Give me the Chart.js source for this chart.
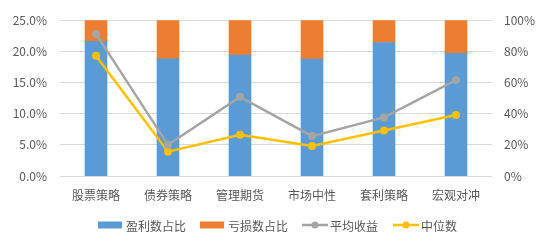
<!DOCTYPE html>
<html>
<head>
<meta charset="utf-8">
<script src="https://cdn.jsdelivr.net/npm/chart.js@4"></script>
<style>
  html, body { margin: 0; padding: 0; background: #fff; }
  #wrap { width: 550px; height: 245px; position: relative; }
</style>
</head>
<body>
<div id="wrap"><canvas id="chart"></canvas></div>
<script>
const categories = ["股票策略", "债券策略", "管理期货", "市场中性", "套利策略", "宏观对冲"];
const profitShare = [86.5, 75.2, 77.6, 75.0, 85.7, 78.8];
const lossShare = [13.5, 24.8, 22.4, 25.0, 14.3, 21.2];
const avgReturn = [22.8, 5.0, 12.7, 6.4, 9.4, 15.4];
const medianReturn = [19.3, 3.9, 6.6, 4.8, 7.3, 9.8];
const legendNames = ["盈利数占比", "亏损数占比", "平均收益", "中位数"];

const FONT = "'Noto Sans CJK SC', 'Noto Sans', sans-serif";
const TEXT = "#595959";

// 图例手动画在底部
const legendPlugin = {
    id: "bottomLegend",
    afterDraw(chart) {
        const c = chart.ctx;
        const y = 225;
        const items = [
            { x: 98, type: "box", color: "#5b9bd5", name: legendNames[0] },
            { x: 200, type: "box", color: "#ed7d31", name: legendNames[1] },
            { x: 302, type: "line", color: "#a5a5a5", name: legendNames[2] },
            { x: 393, type: "line", color: "#ffc000", name: legendNames[3] },
        ];
        c.save();
        c.font = "12px " + FONT;
        c.textBaseline = "middle";
        c.fillStyle = TEXT;
        items.forEach((it) => {
            if (it.type === "box") {
                c.fillStyle = it.color;
                c.fillRect(it.x, y - 3.5, 24, 7);
            } else {
                c.strokeStyle = it.color;
                c.lineWidth = 2.5;
                c.beginPath();
                c.moveTo(it.x, y);
                c.lineTo(it.x + 26, y);
                c.stroke();
                c.fillStyle = it.color;
                c.beginPath();
                c.arc(it.x + 13, y, 3.5, 0, Math.PI * 2);
                c.fill();
            }
            c.fillStyle = TEXT;
            c.fillText(it.name, it.x + 28, y + 1);
        });
        c.restore();
    },
};

new Chart(document.getElementById("chart"), {
    type: "bar",
    data: {
        labels: categories,
        datasets: [
            {
                type: "line",
                label: legendNames[2],
                data: avgReturn,
                yAxisID: "y",
                borderColor: "#a5a5a5",
                backgroundColor: "#a5a5a5",
                borderWidth: 2.5,
                pointRadius: 4,
                pointBorderWidth: 0,
                tension: 0,
                order: 0,
            },
            {
                type: "line",
                label: legendNames[3],
                data: medianReturn,
                yAxisID: "y",
                borderColor: "#ffc000",
                backgroundColor: "#ffc000",
                borderWidth: 2.5,
                pointRadius: 4,
                pointBorderWidth: 0,
                tension: 0,
                order: 0,
            },
            {
                label: legendNames[0],
                data: profitShare,
                yAxisID: "yR",
                backgroundColor: "#5b9bd5",
                barThickness: 22,
                order: 1,
            },
            {
                label: legendNames[1],
                data: lossShare,
                yAxisID: "yR",
                backgroundColor: "#ed7d31",
                barThickness: 22,
                order: 1,
            },
        ],
    },
    options: {
        responsive: true,
        maintainAspectRatio: false,
        animation: false,
        layout: { padding: { top: 20, left: 0, right: 0, bottom: 0 } },
        plugins: {
            legend: { display: false },
            tooltip: { enabled: false },
        },
        scales: {
            x: {
                stacked: true,
                grid: { display: false, drawTicks: false },
                border: { display: false },
                ticks: { color: TEXT, font: { size: 12, family: FONT }, padding: 12 },
                afterFit: (s) => { s.height = 69; },
            },
            y: {
                position: "left",
                min: 0,
                max: 25,
                ticks: {
                    stepSize: 5,
                    color: TEXT,
                    font: { size: 12, family: FONT },
                    padding: 13,
                    callback: (v) => v.toFixed(1) + "%",
                },
                grid: { color: "#d9d9d9", drawTicks: false },
                border: { display: false },
                afterFit: (s) => { s.width = 60; },
            },
            yR: {
                position: "right",
                stacked: true,
                min: 0,
                max: 100,
                ticks: {
                    stepSize: 20,
                    color: TEXT,
                    font: { size: 12, family: FONT },
                    padding: 12,
                    callback: (v) => v + "%",
                },
                grid: { display: false, drawTicks: false },
                border: { display: false },
                afterFit: (s) => { s.width = 58; },
            },
        },
    },
    plugins: [legendPlugin],
});
</script>
</body>
</html>
